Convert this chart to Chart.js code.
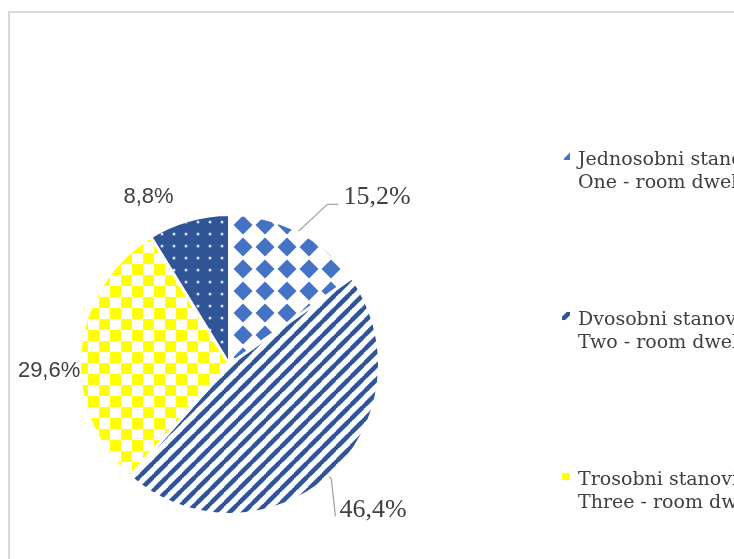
<!DOCTYPE html>
<html>
<head>
  <title>Stanovi prema broju soba</title>
  <style>
    body {
      margin: 0;
      background: #ffffff;
      overflow: hidden;
    }
    #chartContainer {
      width: 734px;
      height: 559px;
    }
  </style>
</head>
<body>
  <div id="chartContainer">
    <canvas id="roomsChart" width="734" height="559"></canvas>
  </div>

  <script src="https://cdn.jsdelivr.net/npm/chart.js"></script>
  <script>
    // data
    const categories = ['Jednosobni stanovi', 'Dvosobni stanovi', 'Trosobni stanovi', 'Četverosobni stanovi'];
    const categoriesEn = ['One - room dwellings', 'Two - room dwellings', 'Three - room dwellings', 'Four - room dwellings'];
    const shares = [15.2, 46.4, 29.6, 8.8];

    // label placement around the pie (dx, dy from the slice's outer edge point)
    const labelLayout = [
      { font: 'serif', leader: [[29, -27], [40, -27]], text: [45, -34], align: 'left' },
      { font: 'serif', leader: [[2, 3], [6, 40]], text: [10, 34], align: 'left' },
      { font: 'sans', leader: null, text: [-31, 20], align: 'center' },
      { font: 'sans', leader: null, text: [-40, -23], align: 'center' }
    ];

    function makePattern(kind) {
      const c = document.createElement('canvas');
      const g = c.getContext('2d');
      let size;
      let shift = [0, 0];
      if (kind === 'diamond') {
        size = 22;
        shift = [232, 214];
        c.width = c.height = size;
        g.fillStyle = '#ffffff';
        g.fillRect(0, 0, size, size);
        g.fillStyle = '#4472c4';
        g.beginPath();
        g.moveTo(11, 1.5); g.lineTo(20.5, 11); g.lineTo(11, 20.5); g.lineTo(1.5, 11);
        g.closePath();
        g.fill();
      } else if (kind === 'stripes') {
        size = 14;
        c.width = c.height = size;
        g.fillStyle = '#ffffff';
        g.fillRect(0, 0, size, size);
        g.strokeStyle = '#2f5597';
        g.lineWidth = 4.5;
        [[-size, size * 2], [0, size], [size, 0]].forEach(([ox, oy]) => {
          g.beginPath();
          g.moveTo(ox, oy);
          g.lineTo(ox + size, oy - size);
          g.stroke();
        });
        g.beginPath(); g.moveTo(-1, 1); g.lineTo(1, -1); g.stroke();
        g.beginPath(); g.moveTo(size - 1, size + 1); g.lineTo(size + 1, size - 1); g.stroke();
      } else if (kind === 'checker') {
        size = 22;
        c.width = c.height = size;
        g.fillStyle = '#ffffff';
        g.fillRect(0, 0, size, size);
        g.fillStyle = '#ffff00';
        g.fillRect(0, 0, 11, 11);
        g.fillRect(11, 11, 11, 11);
      } else {
        size = 12;
        c.width = c.height = size;
        g.fillStyle = '#2f5597';
        g.fillRect(0, 0, size, size);
        g.fillStyle = '#d6e0f5';
        g.beginPath();
        g.arc(6, 6, 1.5, 0, Math.PI * 2);
        g.fill();
      }
      const pat = document.getElementById('roomsChart').getContext('2d').createPattern(c, 'repeat');
      pat.setTransform(new DOMMatrix().translate(shift[0], shift[1]));
      return pat;
    }

    const fills = [makePattern('diamond'), makePattern('stripes'), makePattern('checker'), makePattern('dots')];

    const fmt = v => v.toFixed(1).replace('.', ',') + '%';

    const framePlugin = {
      id: 'frame',
      beforeDraw(chart) {
        const ctx = chart.ctx;
        ctx.save();
        ctx.strokeStyle = '#d9d9d9';
        ctx.lineWidth = 2;
        ctx.strokeRect(9, 12, 800, 600);
        ctx.restore();
      }
    };

    const labelsPlugin = {
      id: 'sliceLabels',
      afterDraw(chart) {
        const ctx = chart.ctx;
        const meta = chart.getDatasetMeta(0);
        ctx.save();
        meta.data.forEach((arc, i) => {
          const p = arc.getProps(['x', 'y', 'startAngle', 'endAngle', 'outerRadius'], true);
          const mid = (p.startAngle + p.endAngle) / 2;
          const ex = p.x + Math.cos(mid) * p.outerRadius;
          const ey = p.y + Math.sin(mid) * p.outerRadius;
          const lay = labelLayout[i];
          if (lay.leader) {
            ctx.strokeStyle = '#a6a6a6';
            ctx.lineWidth = 1.3;
            ctx.beginPath();
            ctx.moveTo(ex, ey);
            lay.leader.forEach(([dx, dy]) => ctx.lineTo(ex + dx, ey + dy));
            ctx.stroke();
          }
          ctx.fillStyle = '#404040';
          ctx.font = lay.font === 'serif' ? '26px "Liberation Serif", serif' : '22px "Liberation Sans", sans-serif';
          ctx.textAlign = lay.align;
          ctx.textBaseline = 'middle';
          ctx.fillText(fmt(shares[i]), ex + lay.text[0], ey + lay.text[1]);
        });
        ctx.restore();
      }
    };

    const legendPlugin = {
      id: 'sideLegend',
      afterDraw(chart) {
        const ctx = chart.ctx;
        ctx.save();
        categories.forEach((name, i) => {
          const y = 160 + i * 160;
          ctx.fillStyle = fills[i];
          ctx.fillRect(562, y - 8, 8, 8);
          ctx.fillStyle = '#404040';
          ctx.font = '19px "DejaVu Serif", serif';
          ctx.textAlign = 'left';
          ctx.textBaseline = 'middle';
          ctx.fillText(name, 578, y);
          ctx.fillText(categoriesEn[i], 578, y + 23);
        });
        ctx.restore();
      }
    };

    new Chart(document.getElementById('roomsChart'), {
      type: 'pie',
      data: {
        labels: categories,
        datasets: [{
          data: shares,
          backgroundColor: fills,
          borderColor: '#ffffff',
          borderWidth: 3
        }]
      },
      options: {
        responsive: false,
        animation: false,
        layout: {
          padding: { left: 78, right: 353, top: 213, bottom: 43 }
        },
        plugins: {
          legend: { display: false },
          tooltip: { enabled: false }
        }
      },
      plugins: [framePlugin, labelsPlugin, legendPlugin]
    });
  </script>
</body>
</html>
